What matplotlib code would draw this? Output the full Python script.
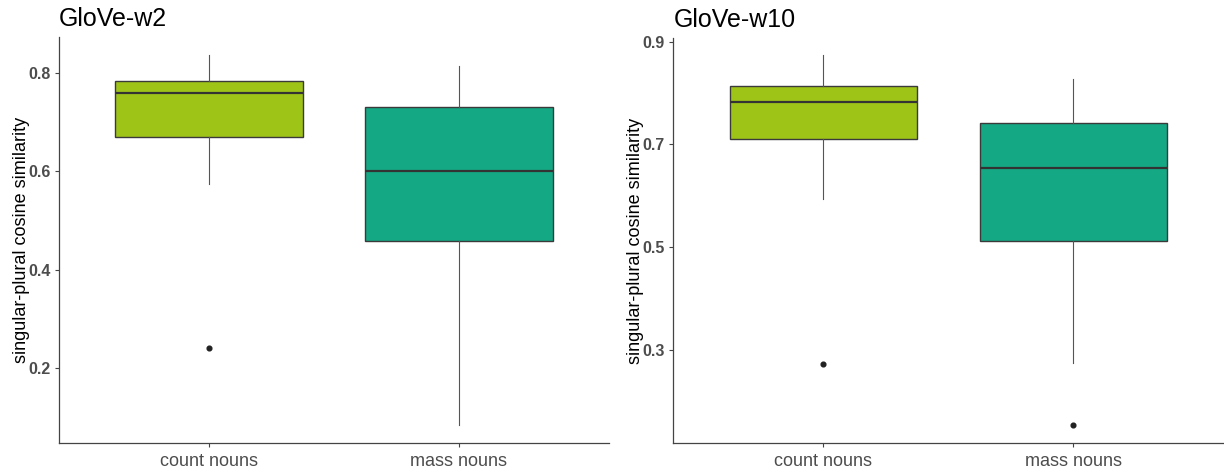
import matplotlib
matplotlib.use('Agg')
import matplotlib.pyplot as plt

plt.rcParams['font.family'] = ['Liberation Sans', 'DejaVu Sans']

categories = ['count nouns', 'mass nouns']
box_colors = ['#9fc418', '#14a884']

# five-number summaries: low whisker, q1, median, q3, high whisker
w2_low = [0.574, 0.085]
w2_q1 = [0.670, 0.458]
w2_med = [0.759, 0.601]
w2_q3 = [0.783, 0.730]
w2_high = [0.836, 0.814]
w2_fliers = [[0.241], []]

w10_low = [0.593, 0.275]
w10_q1 = [0.710, 0.512]
w10_med = [0.783, 0.654]
w10_q3 = [0.814, 0.742]
w10_high = [0.873, 0.827]
w10_fliers = [[0.272], [0.153]]

w2_ticks = [0.2, 0.4, 0.6, 0.8]
w10_ticks = [0.3, 0.5, 0.7, 0.9]


def make_stats(low, q1, med, q3, high, fliers):
    stats = []
    for i in range(len(low)):
        stats.append(dict(whislo=low[i], q1=q1[i], med=med[i], q3=q3[i],
                          whishi=high[i], fliers=fliers[i], label=categories[i]))
    return stats


def draw_panel(ax, stats, title, yticks, ylim):
    bp = ax.bxp(stats, positions=[1, 2], widths=0.75, patch_artist=True,
                showcaps=False,
                boxprops=dict(edgecolor='#3a3a3a', linewidth=1.0),
                medianprops=dict(color='#333333', linewidth=1.6),
                whiskerprops=dict(color='#555555', linewidth=0.8),
                flierprops=dict(marker='o', markersize=3.4, markerfacecolor='#222222',
                                markeredgecolor='#222222'))
    for patch, c in zip(bp['boxes'], box_colors):
        patch.set_facecolor(c)
    ax.set_xlim(0.4, 2.6)
    ax.set_ylim(*ylim)
    ax.set_yticks(yticks)
    ax.set_yticklabels([f'{t:.1f}' for t in yticks], fontsize=11.5,
                       fontweight='bold', color='#4d4d4d')
    ax.set_xticks([1, 2])
    ax.set_xticklabels(categories, fontsize=13, color='#4d4d4d')
    ax.tick_params(axis='both', length=3, width=0.8, color='#444444')
    ax.tick_params(axis='y', pad=3)
    ax.tick_params(axis='x', pad=4)
    for s in ['top', 'right']:
        ax.spines[s].set_visible(False)
    for s in ['left', 'bottom']:
        ax.spines[s].set_color('#444444')
        ax.spines[s].set_linewidth(0.9)
    ax.set_ylabel('singular-plural cosine similarity', fontsize=13, labelpad=-1)
    ax.set_title(title, loc='left', fontsize=18, pad=8)


fig = plt.figure(figsize=(12.24, 4.70), dpi=100)
ax1 = fig.add_axes([59 / 1224, 27 / 470, 550 / 1224, 406 / 470])
ax2 = fig.add_axes([673.3 / 1224, 26.7 / 470, 550 / 1224, 405.6 / 470])

draw_panel(ax1, make_stats(w2_low, w2_q1, w2_med, w2_q3, w2_high, w2_fliers),
           'GloVe-w2', w2_ticks, (0.0474, 0.873))
draw_panel(ax2, make_stats(w10_low, w10_q1, w10_med, w10_q3, w10_high, w10_fliers),
           'GloVe-w10', w10_ticks, (0.118, 0.9076))

fig.savefig('out.png', dpi=100)
